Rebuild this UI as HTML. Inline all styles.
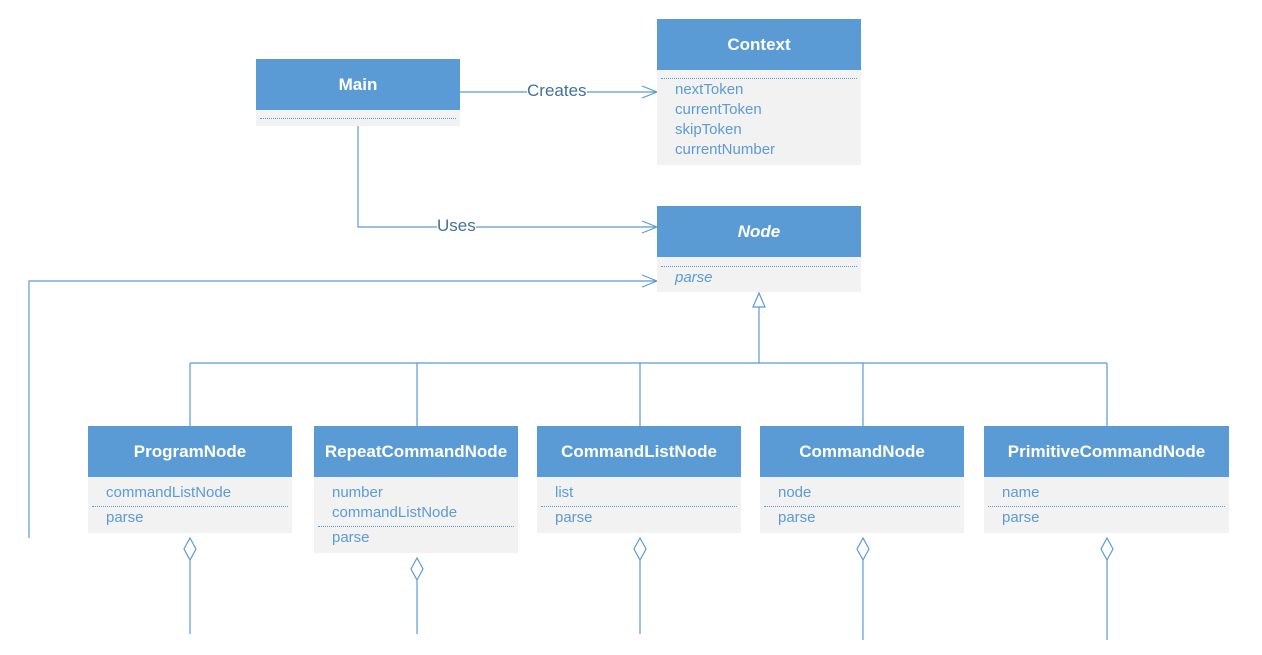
<!DOCTYPE html>
<html><head><style>
body{margin:0;background:#fff;width:1262px;height:655px;overflow:hidden;position:relative;font-family:"Liberation Sans","DejaVu Sans",sans-serif}
.b{position:absolute;background:#f2f2f2}
.h{background:#5b9bd5;color:#fff;font-weight:bold;font-size:17px;text-align:center;height:51px;line-height:51px}
.r{position:absolute;left:18px;color:#5b9bd5;font-size:15px;line-height:20px}
.d{position:absolute;left:4px;right:4px;border-top:1px dotted #5b9bd5}
svg{position:absolute;left:0;top:0}
</style></head><body>
<svg width="1262" height="655" fill="none" stroke="#5b9bd5" stroke-width="1.2">
<path d="M460 92H657M642 86L657 92L642 98"/>
<path d="M358 126V227H657M642 221L657 227L642 233"/>
<path d="M29 538V281H657M642 275L657 281L642 287"/>
<path d="M759 293L753 307H765Z"/>
<path d="M759 307V363M190 363H1107M190 363V426M417 363V426M640 363V426M863 363V426M1107 363V426"/>
<path d="M190 538L196 549L190 560L184 549Z M190 560V634"/>
<path d="M417 558L423 569L417 580L411 569Z M417 580V634"/>
<path d="M640 538L646 549L640 560L634 549Z M640 560V634"/>
<path d="M863 538L869 549L863 560L857 549Z M863 560V640"/>
<path d="M1107 538L1113 549L1107 560L1101 549Z M1107 560V640"/>
</svg>
<div style="position:absolute;left:527px;top:81px;background:#fff;color:#41719c;font-size:17px;line-height:20px">Creates</div>
<div style="position:absolute;left:437px;top:216px;background:#fff;color:#41719c;font-size:17px;line-height:20px">Uses</div>

<div class="b" style="left:256px;top:59px;width:204px;height:67px"><div class="h">Main</div><div class="d" style="top:59px"></div></div>
<div class="b" style="left:657px;top:19px;width:204px;height:146px"><div class="h">Context</div><div class="d" style="top:59px"></div>
<div class="r" style="top:61px">nextToken<br>currentToken<br>skipToken<br>currentNumber</div></div>
<div class="b" style="left:657px;top:206px;width:204px;height:86px"><div class="h" style="font-style:italic">Node</div><div class="d" style="top:60px"></div>
<div class="r" style="top:62px;font-style:italic">parse</div></div>

<div class="b" style="left:88px;top:426px;width:204px;height:107px"><div class="h">ProgramNode</div>
<div class="r" style="top:57px">commandListNode</div><div class="d" style="top:80px"></div><div class="r" style="top:82px">parse</div></div>
<div class="b" style="left:314px;top:426px;width:204px;height:127px"><div class="h">RepeatCommandNode</div>
<div class="r" style="top:57px">number<br>commandListNode</div><div class="d" style="top:100px"></div><div class="r" style="top:102px">parse</div></div>
<div class="b" style="left:537px;top:426px;width:204px;height:107px"><div class="h">CommandListNode</div>
<div class="r" style="top:57px">list</div><div class="d" style="top:80px"></div><div class="r" style="top:82px">parse</div></div>
<div class="b" style="left:760px;top:426px;width:204px;height:107px"><div class="h">CommandNode</div>
<div class="r" style="top:57px">node</div><div class="d" style="top:80px"></div><div class="r" style="top:82px">parse</div></div>
<div class="b" style="left:984px;top:426px;width:245px;height:107px"><div class="h">PrimitiveCommandNode</div>
<div class="r" style="top:57px">name</div><div class="d" style="top:80px"></div><div class="r" style="top:82px">parse</div></div>
</body></html>
